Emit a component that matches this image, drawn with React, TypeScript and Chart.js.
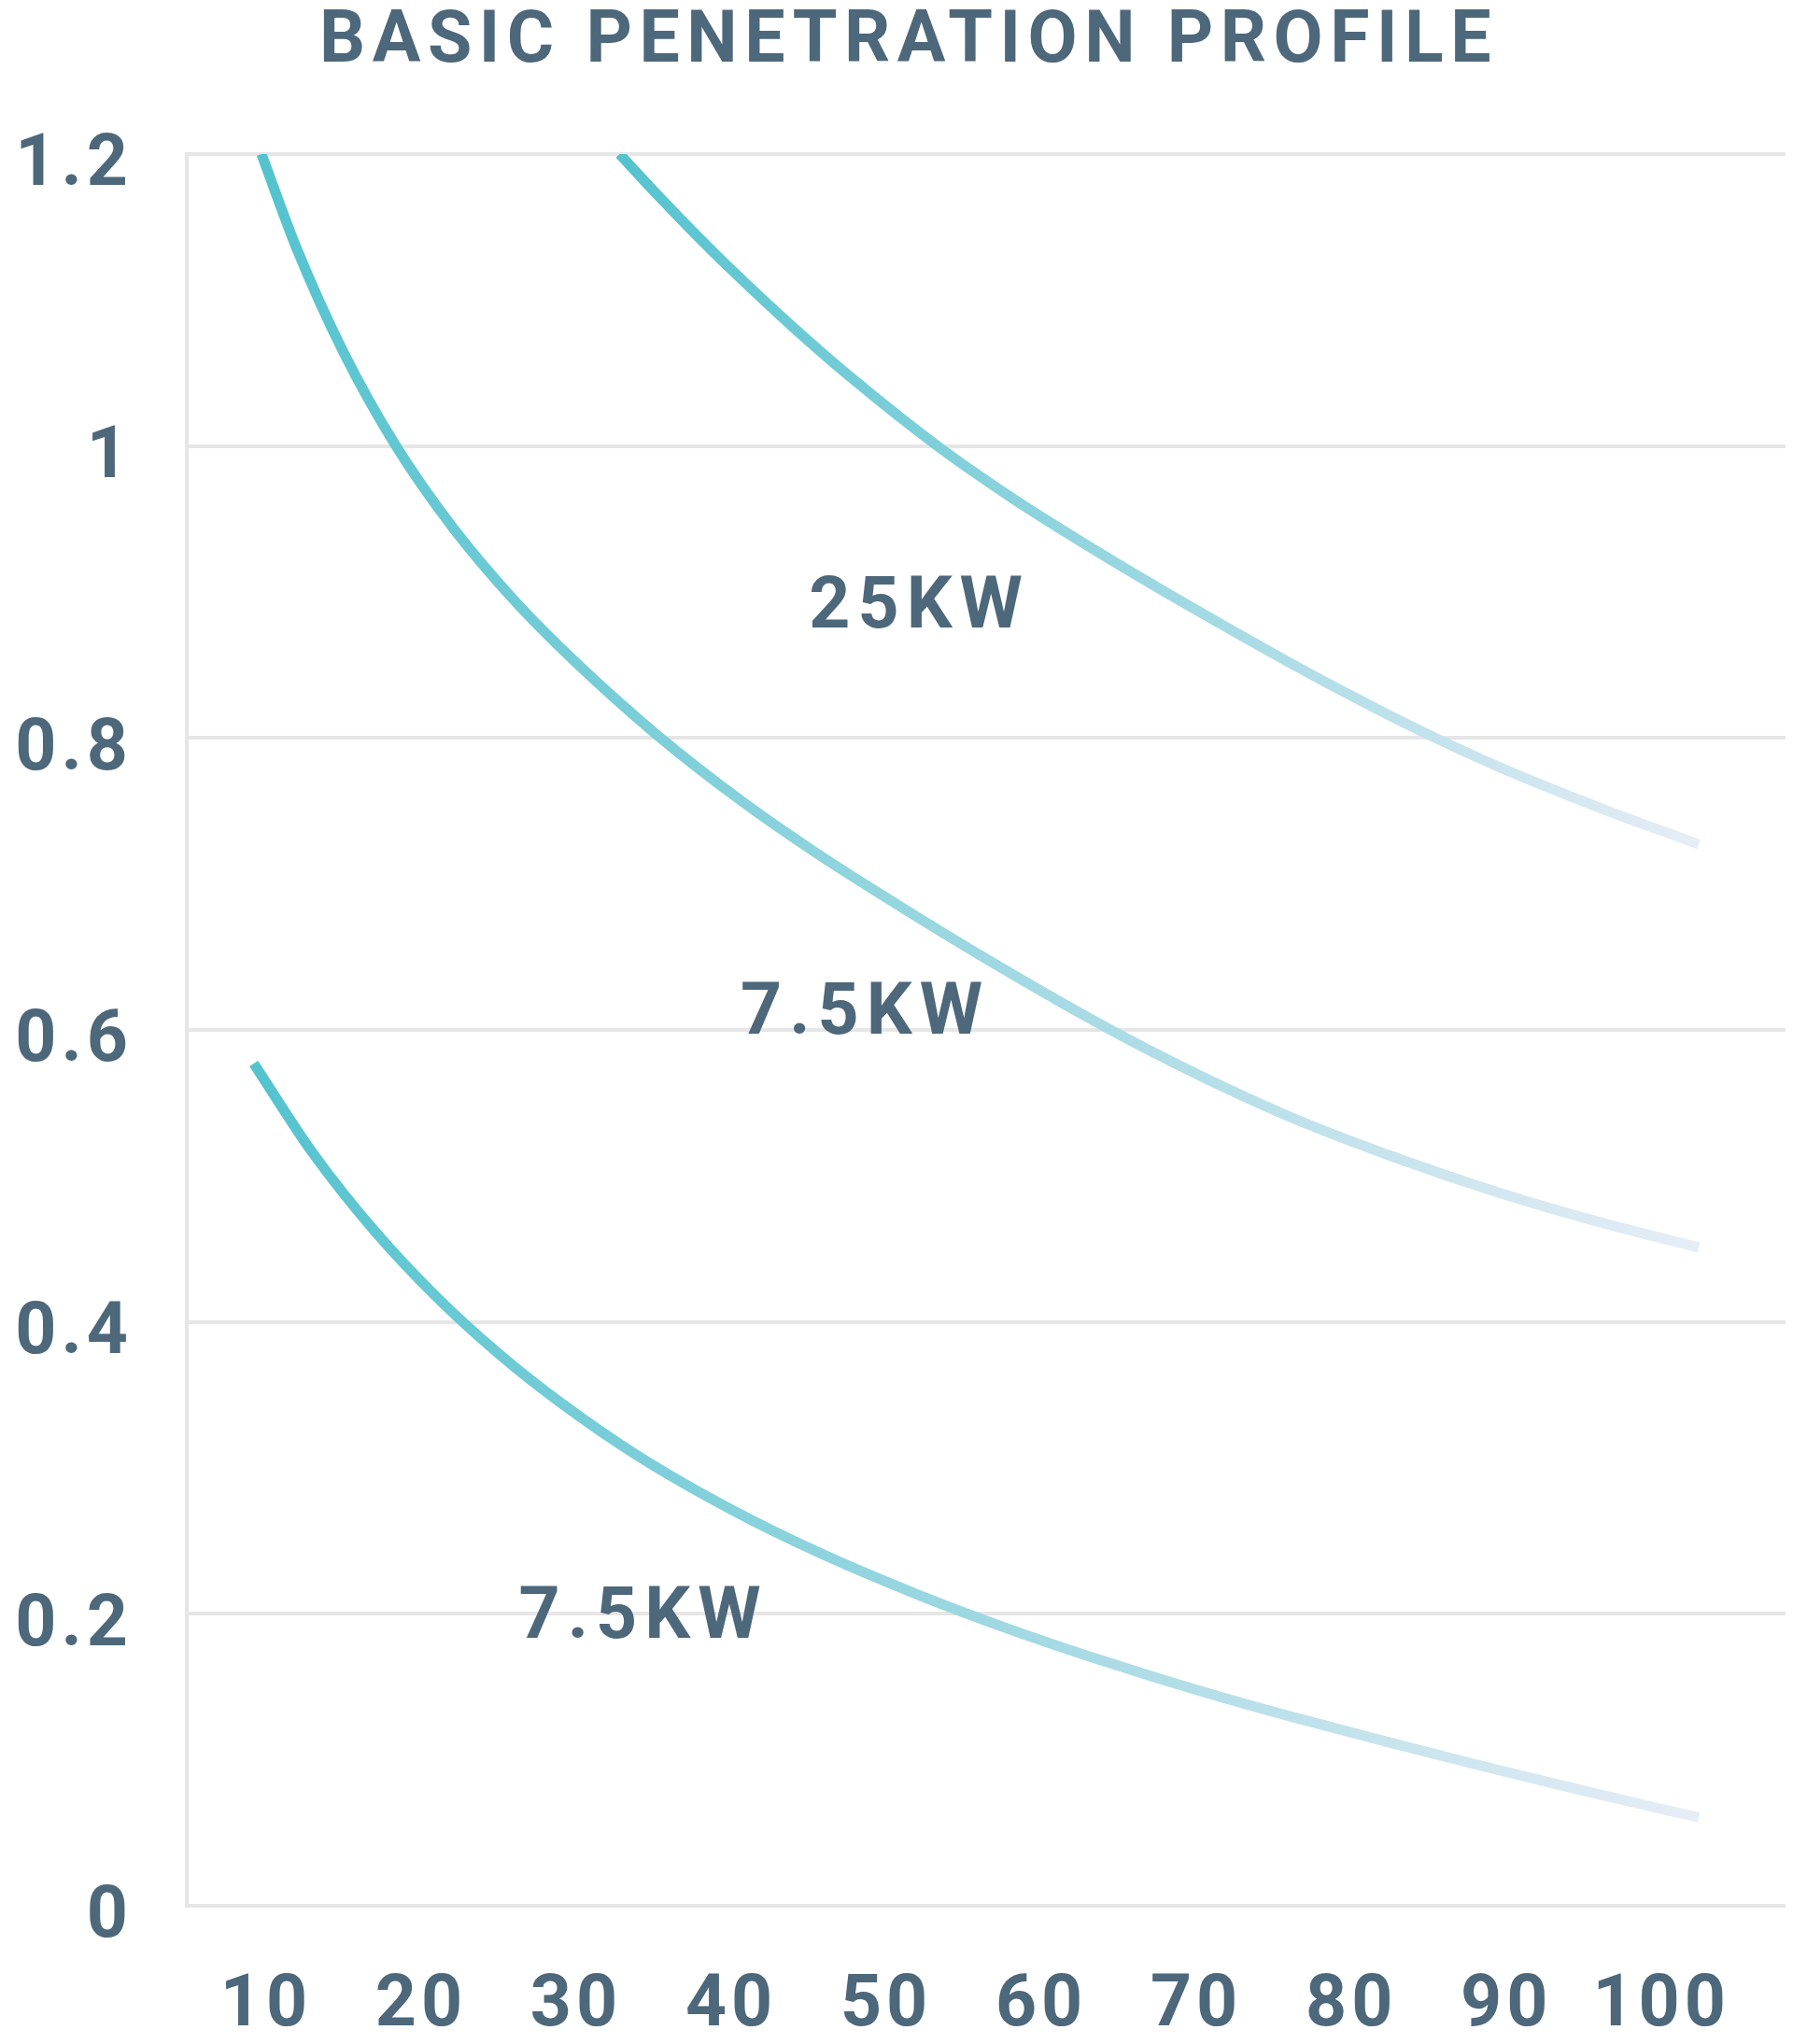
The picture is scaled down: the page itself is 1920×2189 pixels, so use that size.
import { useEffect, useRef } from "react";
import { Chart, registerables } from "chart.js";

Chart.register(...registerables);

const chartTitle = "BASIC PENETRATION PROFILE";

const xTicks = [10, 20, 30, 40, 50, 60, 70, 80, 90, 100];
const yTicks = [0, 0.2, 0.4, 0.6, 0.8, 1, 1.2];
const yTickLabels = ["0", "0.2", "0.4", "0.6", "0.8", "1", "1.2"];

// 25KW curve
const x25 = [32.8, 35, 37.5, 40, 44, 48, 53.3, 58, 63, 69.5, 76.1, 80, 84.3, 89.5, 96.2, 102.4];
const y25 = [1.2, 1.1747, 1.1472, 1.1209, 1.0813, 1.0445, 1.0, 0.9652, 0.9317, 0.8907, 0.8511, 0.8289, 0.8057, 0.7802, 0.7514, 0.7272];

// upper 7.5KW curve
const x75a = [9.7, 12, 15, 18.3, 22, 26, 30, 35.16, 40.69, 45.3, 49.9, 56.08, 63.8, 69.5, 76.1, 82.8, 89.5, 96.2, 102.4];
const y75a = [1.2, 1.1345, 1.064, 1.0013, 0.9447, 0.8943, 0.8515, 0.8025, 0.7566, 0.7225, 0.6912, 0.651, 0.6039, 0.5725, 0.5402, 0.5127, 0.4886, 0.4678, 0.451];

// lower 7.5KW curve
const x75b = [9.2, 13, 17, 21, 25, 29, 34, 40, 46, 52, 58, 64, 70, 76, 82, 88, 95, 102.4];
const y75b = [0.577, 0.5158, 0.4622, 0.417, 0.3782, 0.3446, 0.3081, 0.2715, 0.2403, 0.2133, 0.1893, 0.1677, 0.1479, 0.1299, 0.1131, 0.0969, 0.0787, 0.0605];

const seriesNames = ["25KW", "7.5KW", "7.5KW"];
const nameX = [51.9, 48.4, 34.1];
const nameY = [0.888, 0.61, 0.196];

const TEXT = "#4d677b";
const GRID = "#e6e6e6";
const LINE_START = "#54c3ce";
const LINE_END = "#e7edf6";
const FONT = "Roboto";

function lineGradient(ctx: any) {
  const chart = ctx.chart;
  const xs = chart.scales.x;
  if (!chart.chartArea || !xs) return LINE_START;
  const data = chart.data.datasets[ctx.datasetIndex].data;
  const x0 = xs.getPixelForValue(data[0].x);
  const x1 = xs.getPixelForValue(data[data.length - 1].x);
  const g = chart.ctx.createLinearGradient(x0, 0, x1, 0);
  g.addColorStop(0, LINE_START);
  g.addColorStop(1, LINE_END);
  return g;
}

// title and curve names, drawn letter-spaced like the rest of the text
const textPlugin = {
  id: "textPlugin",
  beforeLayout(chart: any) {
    chart.ctx.letterSpacing = "5px";
  },
  beforeDraw(chart: any) {
    chart.ctx.letterSpacing = "5px";
  },
  afterDraw(chart: any) {
    const ctx = chart.ctx;
    ctx.save();
    ctx.fillStyle = TEXT;
    ctx.font = `bold 77px ${FONT}`;
    ctx.textAlign = "center";
    ctx.textBaseline = "middle";
    ctx.letterSpacing = "7.5px";
    ctx.fillText(chartTitle, 973, 47);
    ctx.letterSpacing = "8px";
    seriesNames.forEach((name, i) => {
      const px = chart.scales.x.getPixelForValue(nameX[i]);
      const py = chart.scales.y.getPixelForValue(nameY[i]);
      ctx.fillText(name, px + 4, py);
    });
    ctx.restore();
  },
};

export default function App() {
  const canvasRef = useRef<HTMLCanvasElement | null>(null);

  useEffect(() => {
    document.body.style.margin = "0";
    if (!canvasRef.current) return;
    const series = [
      [x25, y25],
      [x75a, y75a],
      [x75b, y75b],
    ];
    const chart = new Chart(canvasRef.current, {
      type: "line",
      data: {
        datasets: series.map(([xs, ys], i) => ({
          label: seriesNames[i],
          data: xs.map((x, j) => ({ x, y: ys[j] })),
          borderColor: lineGradient,
          borderWidth: 11,
          borderCapStyle: "butt" as const,
          pointRadius: 0,
          fill: false,
          cubicInterpolationMode: "monotone" as const,
        })),
      },
      options: {
        responsive: false,
        animation: false,
        devicePixelRatio: 1,
        layout: { padding: { top: 165, right: 8, left: 0, bottom: 0 } },
        plugins: {
          legend: { display: false },
          title: { display: false },
          tooltip: { enabled: false },
        },
        scales: {
          x: {
            type: "linear",
            min: 4.88,
            max: 108,
            afterBuildTicks: (axis: any) => {
              axis.ticks = xTicks.map((value) => ({ value }));
            },
            afterFit: (axis: any) => {
              axis.height = 148;
            },
            grid: { display: false, drawTicks: false },
            border: { display: false },
            ticks: {
              padding: 63,
              color: TEXT,
              font: { family: FONT, size: 77, weight: "bold" },
              maxRotation: 0,
              autoSkip: false,
              callback: (v: any) => String(v),
            },
          },
          y: {
            type: "linear",
            min: 0,
            max: 1.2,
            afterBuildTicks: (axis: any) => {
              axis.ticks = yTicks.map((value) => ({ value }));
            },
            afterFit: (axis: any) => {
              axis.width = 200;
            },
            grid: { color: GRID, lineWidth: 4, drawTicks: false },
            border: { display: true, color: GRID, width: 4 },
            ticks: {
              padding: 58,
              labelOffset: 14,
              color: TEXT,
              font: { family: FONT, size: 77, weight: "bold" },
              autoSkip: false,
              callback: (v: any) => yTickLabels[yTicks.indexOf(v)] ?? String(v),
            },
          },
        },
      },
      plugins: [textPlugin],
    } as any);
    return () => chart.destroy();
  }, []);

  return (
    <div style={{ width: 1920, height: 2189 }}>
      <canvas ref={canvasRef} width={1920} height={2189} style={{ display: "block" }} />
    </div>
  );
}
